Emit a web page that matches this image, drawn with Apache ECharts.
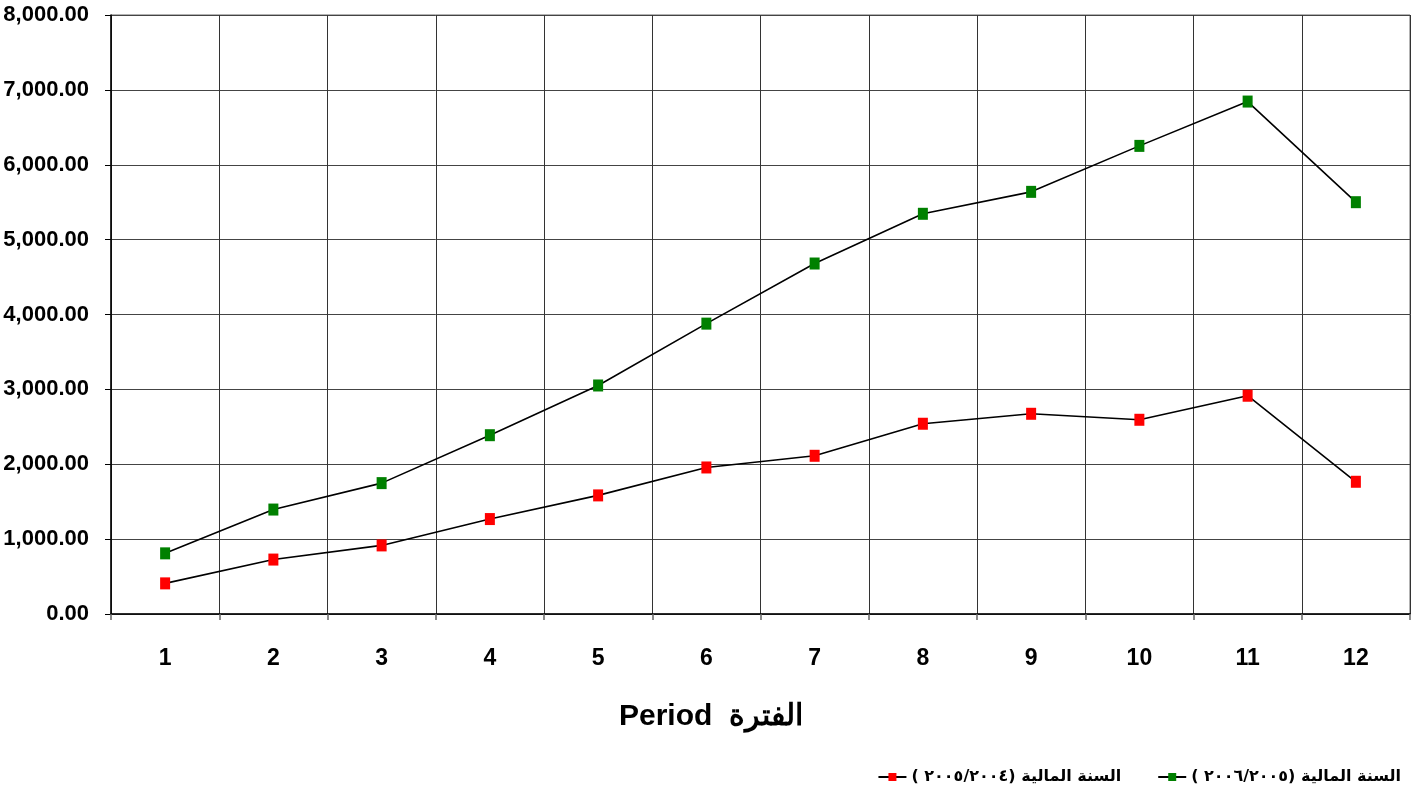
<!DOCTYPE html>
<html>
<head>
<meta charset="utf-8">
<script src="https://cdn.jsdelivr.net/npm/echarts@6/dist/echarts.min.js"></script>
<style>
html,body{margin:0;padding:0;background:#fff;}
#chart{width:1422px;height:794px;}
</style>
</head>
<body>
<div id="chart"></div>
<script>
const categories = ['1','2','3','4','5','6','7','8','9','10','11','12'];
const series2005_2006 = [810, 1395, 1748, 2388, 3052, 3878, 4681, 5345, 5638, 6252, 6844, 5500];
const series2004_2005 = [409, 727, 916, 1268, 1584, 1957, 2113, 2541, 2674, 2594, 2915, 1766];
const yTicks = { min: 0, max: 8000, interval: 1000 };
const nameGreen = '\u202D( \u0662\u0660\u0660\u0666/\u0662\u0660\u0660\u0665)\u202C \u0627\u0644\u0633\u0646\u0629 \u0627\u0644\u0645\u0627\u0644\u064A\u0629';
const nameRed = '\u202D( \u0662\u0660\u0660\u0665/\u0662\u0660\u0660\u0664)\u202C \u0627\u0644\u0633\u0646\u0629 \u0627\u0644\u0645\u0627\u0644\u064A\u0629';
const axisTitle = 'Period  \u0627\u0644\u0641\u062A\u0631\u0629';

const FONT = "'Liberation Sans',Arial,sans-serif";
const chart = echarts.init(document.getElementById('chart'));
function fmt(v){
  return v.toFixed(2).replace(/\B(?=(\d{3})+(?!\d))/g, ',');
}
chart.setOption({
  animation: false,
  backgroundColor: '#fff',
  title: {
    text: axisTitle,
    left: 'center',
    top: 702,
    padding: 0,
    textStyle: { fontFamily: FONT, fontWeight: 'bold', fontSize: 30, color: '#000' }
  },
  legend: {
    data: [nameRed, nameGreen],
    right: 16,
    top: 764,
    itemGap: 36,
    itemWidth: 28,
    itemHeight: 10,
    textStyle: { fontFamily: "'DejaVu Sans','Liberation Sans',sans-serif", fontWeight: 'bold', fontSize: 16, color: '#000' }
  },
  grid: {
    left: 111, right: 12, top: 15, bottom: 180,
    containLabel: false,
    outerBoundsMode: 'none',
    show: true, borderColor: '#666', borderWidth: 1
  },
  xAxis: {
    type: 'category',
    data: categories,
    boundaryGap: true,
    axisLine: { lineStyle: { color: '#000', width: 1.5 } },
    axisTick: { show: true, length: 6, lineStyle: { color: '#666', width: 1.5 } },
    axisLabel: { margin: 33, fontFamily: FONT, fontWeight: 'bold', fontSize: 23, color: '#000' },
    splitLine: { show: true, lineStyle: { color: '#333', width: 1 } }
  },
  yAxis: {
    type: 'value',
    min: yTicks.min, max: yTicks.max, interval: yTicks.interval,
    axisLine: { show: true, lineStyle: { color: '#000', width: 1.5 } },
    axisTick: { show: true, length: 6, lineStyle: { color: '#000', width: 1 } },
    axisLabel: { margin: 22, formatter: fmt, fontFamily: FONT, fontWeight: 'bold', fontSize: 22, color: '#000' },
    splitLine: { show: true, lineStyle: { color: '#444', width: 1 } }
  },
  series: [
    {
      name: nameRed,
      type: 'line',
      data: series2004_2005,
      symbol: 'rect',
      symbolSize: [10, 12],
      itemStyle: { color: '#ff0000' },
      lineStyle: { color: '#000', width: 1.6 },
      z: 3
    },
    {
      name: nameGreen,
      type: 'line',
      data: series2005_2006,
      symbol: 'rect',
      symbolSize: [10, 12],
      itemStyle: { color: '#008000' },
      lineStyle: { color: '#000', width: 1.6 },
      z: 3
    }
  ]
});
</script>
</body>
</html>
